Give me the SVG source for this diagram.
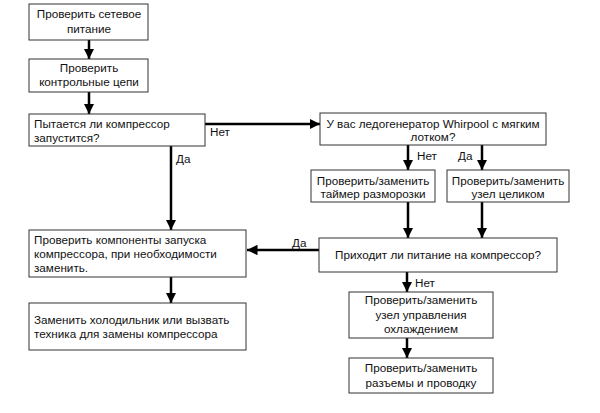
<svg xmlns="http://www.w3.org/2000/svg" width="600" height="413" viewBox="0 0 600 413">
<defs>
<marker id="ah" viewBox="0 0 10 10" refX="10" refY="5" markerWidth="4.2" markerHeight="4.2" markerUnits="strokeWidth" orient="auto">
<path d="M0,0 L10,5 L0,10 z" fill="#000"/>
</marker>
<style>
.box{fill:#fff;stroke:#333;stroke-width:1}
text{font-family:"Liberation Sans",Arial,sans-serif;font-size:11.7px;fill:#111}
.c{text-anchor:middle}
.con{stroke:#000;stroke-width:2.5;fill:none;marker-end:url(#ah)}
</style>
</defs>
<rect width="600" height="413" fill="#fff"/>
<g id="connectors">
<path class="con" d="M89,40 V59"/>
<path class="con" d="M89,92 V114"/>
<path class="con" d="M205,124 H320"/>
<path class="con" d="M171,146 V230"/>
<path class="con" d="M408,145 V170"/>
<path class="con" d="M482,145 V170"/>
<path class="con" d="M408,202 V238"/>
<path class="con" d="M482,202 V238"/>
<path class="con" d="M319,250 H247"/>
<path class="con" d="M171,277 V303"/>
<path class="con" d="M407,272 V292"/>
<path class="con" d="M407,338 V358"/>
<text x="210" y="136">Нет</text>
<text x="176" y="163">Да</text>
<text x="417" y="160">Нет</text>
<text x="458" y="160">Да</text>
<text x="292" y="247">Да</text>
<text x="415" y="287">Нет</text>
</g>
<g id="n1"><rect class="box" x="29" y="4" width="119" height="36"/><text class="c" x="89" y="18">Проверить сетевое</text><text class="c" x="89" y="33">питание</text></g>
<g id="n2"><rect class="box" x="29" y="59" width="119" height="33"/><text class="c" x="89" y="72">Проверить</text><text class="c" x="89" y="86">контрольные цепи</text></g>
<g id="n3"><rect class="box" x="29" y="114" width="176" height="32"/><text x="34" y="128">Пытается ли компрессор</text><text x="34" y="142">запустится?</text></g>
<g id="n4"><rect class="box" x="320" y="113" width="226" height="32"/><text class="c" x="433" y="128">У вас ледогенератор Whirpool с мягким</text><text class="c" x="433" y="141">лотком?</text></g>
<g id="n5"><rect class="box" x="311" y="170" width="124" height="32"/><text class="c" x="373" y="185">Проверить/заменить</text><text class="c" x="373" y="198">таймер разморозки</text></g>
<g id="n6"><rect class="box" x="447" y="170" width="122" height="32"/><text class="c" x="508" y="185">Проверить/заменить</text><text class="c" x="508" y="198">узел целиком</text></g>
<g id="n7"><rect class="box" x="319" y="238" width="238" height="34"/><text class="c" x="438" y="259">Приходит ли питание на компрессор?</text></g>
<g id="n8"><rect class="box" x="29" y="230" width="217" height="47"/><text x="34" y="244">Проверить компоненты запуска</text><text x="34" y="258">компрессора, при необходимости</text><text x="34" y="272">заменить.</text></g>
<g id="n9"><rect class="box" x="29" y="303" width="217" height="47"/><text x="34" y="324">Заменить холодильник или вызвать</text><text x="34" y="338">техника для замены компрессора</text></g>
<g id="n10"><rect class="box" x="349" y="292" width="144" height="46"/><text class="c" x="421" y="304">Проверить/заменить</text><text class="c" x="421" y="319">узел управления</text><text class="c" x="421" y="333">охлаждением</text></g>
<g id="n11"><rect class="box" x="349" y="358" width="144" height="35"/><text class="c" x="421" y="372">Проверить/заменить</text><text class="c" x="421" y="387">разъемы и проводку</text></g>
</svg>
